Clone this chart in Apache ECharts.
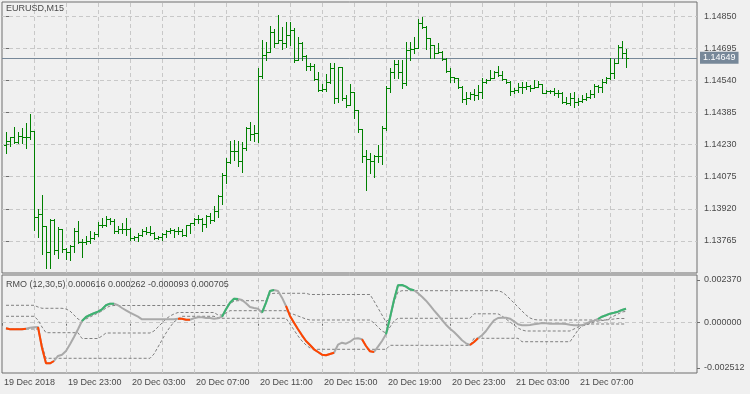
<!DOCTYPE html>
<html><head><meta charset="utf-8">
<script src="https://cdn.jsdelivr.net/npm/echarts@6/dist/echarts.min.js"></script>
<style>html,body{margin:0;padding:0;background:#F0F0F0}#c{width:750px;height:394px}</style>
</head><body><div id="c"></div>
<script>
const symbolTitle = 'EURUSD,M15';
const rmoHeader = 'RMO (12,30,5) 0.000616 0.000262 -0.000093 0.000705';
const priceTicks = [1.14850,1.14695,1.14540,1.14385,1.14230,1.14075,1.13920,1.13765];
const rmoTicks = [0.002370, 0.000000, -0.002512];
const timeTickBars = [-1,15,31,47,63,79,95,111,127,143];
const timeLabels = ['19 Dec 2018','19 Dec 23:00','20 Dec 03:00','20 Dec 07:00','20 Dec 11:00','20 Dec 15:00','20 Dec 19:00','20 Dec 23:00','21 Dec 03:00','21 Dec 07:00'];
const gridBars = [7,15,23,31,39,47,55,63,71,79,87,95,103,111,119,127,135,143,151,159,167];
const lastPrice = 1.14649;

const barOpen = [1.14228,1.14247,1.14265,1.14244,1.14271,1.14267,1.14267,1.14296,1.13882,1.13895,
 1.13837,1.13712,1.13866,1.13720,1.13823,1.13725,1.13712,1.13741,1.13813,1.13759,
 1.13759,1.13765,1.13778,1.13797,1.13842,1.13842,1.13870,1.13861,1.13813,1.13822,
 1.13822,1.13822,1.13780,1.13783,1.13794,1.13812,1.13807,1.13802,1.13778,1.13783,
 1.13799,1.13815,1.13818,1.13812,1.13812,1.13793,1.13842,1.13850,1.13870,1.13870,
 1.13847,1.13886,1.13865,1.13910,1.13982,1.14083,1.14147,1.14199,1.14199,1.14152,
 1.14212,1.14309,1.14280,1.14287,1.14561,1.14662,1.14678,1.14771,1.14721,1.14734,
 1.14718,1.14758,1.14783,1.14638,1.14718,1.14659,1.14610,1.14610,1.14545,1.14493,
 1.14497,1.14530,1.14598,1.14453,1.14603,1.14453,1.14421,1.14482,1.14397,1.14304,
 1.14175,1.14159,1.14152,1.14176,1.14176,1.14309,1.14503,1.14581,1.14619,1.14581,
 1.14525,1.14686,1.14690,1.14694,1.14815,1.14796,1.14742,1.14710,1.14670,1.14675,
 1.14641,1.14586,1.14557,1.14553,1.14506,1.14448,1.14453,1.14472,1.14469,1.14485,
 1.14533,1.14541,1.14553,1.14579,1.14566,1.14545,1.14532,1.14488,1.14493,1.14506,
 1.14509,1.14513,1.14501,1.14509,1.14522,1.14480,1.14488,1.14490,1.14477,1.14477,
 1.14437,1.14432,1.14456,1.14437,1.14440,1.14448,1.14461,1.14472,1.14513,1.14509,
 1.14533,1.14550,1.14577,1.14622,1.14699,1.14673];
const barHigh = [1.14289,1.14268,1.14315,1.14289,1.14309,1.14333,1.14376,1.14296,1.13919,1.13987,
 1.13839,1.13870,1.13871,1.13831,1.13823,1.13730,1.13746,1.13826,1.13861,1.13775,
 1.13789,1.13815,1.13807,1.13858,1.13877,1.13886,1.13877,1.13870,1.13837,1.13853,
 1.13875,1.13826,1.13789,1.13802,1.13823,1.13834,1.13837,1.13808,1.13789,1.13802,
 1.13818,1.13826,1.13821,1.13831,1.13821,1.13844,1.13853,1.13875,1.13889,1.13875,
 1.13890,1.13899,1.13934,1.13985,1.14092,1.14165,1.14249,1.14252,1.14247,1.14241,
 1.14316,1.14340,1.14324,1.14599,1.14734,1.14723,1.14802,1.14786,1.14855,1.14798,
 1.14823,1.14820,1.14791,1.14750,1.14723,1.14662,1.14625,1.14617,1.14579,1.14521,
 1.14569,1.14622,1.14625,1.14603,1.14603,1.14469,1.14522,1.14482,1.14397,1.14304,
 1.14204,1.14188,1.14180,1.14228,1.14320,1.14513,1.14598,1.14638,1.14638,1.14638,
 1.14723,1.14726,1.14747,1.14834,1.14847,1.14802,1.14742,1.14710,1.14718,1.14681,
 1.14649,1.14598,1.14557,1.14553,1.14513,1.14485,1.14485,1.14498,1.14517,1.14550,
 1.14546,1.14590,1.14585,1.14609,1.14585,1.14547,1.14537,1.14501,1.14525,1.14533,
 1.14533,1.14517,1.14541,1.14538,1.14522,1.14493,1.14493,1.14501,1.14493,1.14485,
 1.14461,1.14477,1.14485,1.14453,1.14469,1.14477,1.14493,1.14521,1.14517,1.14545,
 1.14557,1.14646,1.14641,1.14710,1.14731,1.14690];
const barLow = [1.14188,1.14225,1.14236,1.14239,1.14236,1.14215,1.14256,1.13818,1.13786,1.13702,
 1.13636,1.13636,1.13702,1.13685,1.13713,1.13678,1.13673,1.13713,1.13754,1.13689,
 1.13749,1.13754,1.13773,1.13789,1.13834,1.13839,1.13846,1.13802,1.13805,1.13802,
 1.13794,1.13770,1.13770,1.13767,1.13789,1.13799,1.13794,1.13776,1.13773,1.13770,
 1.13786,1.13805,1.13786,1.13799,1.13789,1.13789,1.13805,1.13842,1.13850,1.13815,
 1.13834,1.13850,1.13863,1.13882,1.13943,1.14046,1.14143,1.14156,1.14127,1.14099,
 1.14204,1.14252,1.14249,1.14244,1.14550,1.14638,1.14675,1.14699,1.14718,1.14690,
 1.14699,1.14710,1.14630,1.14638,1.14638,1.14590,1.14590,1.14541,1.14490,1.14490,
 1.14488,1.14528,1.14429,1.14437,1.14445,1.14413,1.14421,1.14357,1.14292,1.14147,
 1.14011,1.14092,1.14075,1.14145,1.14135,1.14300,1.14485,1.14550,1.14550,1.14504,
 1.14517,1.14638,1.14673,1.14694,1.14791,1.14690,1.14646,1.14646,1.14670,1.14638,
 1.14581,1.14533,1.14533,1.14504,1.14437,1.14426,1.14450,1.14445,1.14448,1.14453,
 1.14525,1.14541,1.14550,1.14561,1.14541,1.14528,1.14469,1.14477,1.14485,1.14477,
 1.14497,1.14490,1.14501,1.14506,1.14477,1.14477,1.14477,1.14469,1.14461,1.14432,
 1.14426,1.14421,1.14410,1.14421,1.14437,1.14445,1.14453,1.14461,1.14485,1.14485,
 1.14525,1.14545,1.14550,1.14622,1.14646,1.14606];
const barClose = [1.14247,1.14265,1.14244,1.14271,1.14267,1.14267,1.14296,1.13882,1.13895,1.13837,
 1.13712,1.13866,1.13720,1.13823,1.13725,1.13712,1.13741,1.13813,1.13759,1.13759,
 1.13765,1.13778,1.13797,1.13842,1.13842,1.13870,1.13861,1.13813,1.13822,1.13822,
 1.13822,1.13780,1.13783,1.13794,1.13812,1.13807,1.13802,1.13778,1.13783,1.13799,
 1.13815,1.13818,1.13812,1.13812,1.13793,1.13842,1.13850,1.13870,1.13870,1.13847,
 1.13886,1.13865,1.13910,1.13982,1.14083,1.14147,1.14199,1.14199,1.14152,1.14212,
 1.14309,1.14280,1.14287,1.14561,1.14662,1.14678,1.14771,1.14721,1.14734,1.14718,
 1.14758,1.14783,1.14638,1.14718,1.14659,1.14610,1.14610,1.14545,1.14493,1.14497,
 1.14530,1.14598,1.14453,1.14603,1.14453,1.14421,1.14482,1.14397,1.14304,1.14175,
 1.14159,1.14152,1.14176,1.14176,1.14309,1.14503,1.14581,1.14619,1.14581,1.14525,
 1.14686,1.14690,1.14694,1.14815,1.14796,1.14742,1.14710,1.14670,1.14675,1.14641,
 1.14586,1.14557,1.14553,1.14506,1.14448,1.14453,1.14472,1.14469,1.14485,1.14533,
 1.14541,1.14553,1.14579,1.14566,1.14545,1.14532,1.14488,1.14493,1.14506,1.14509,
 1.14513,1.14501,1.14509,1.14522,1.14480,1.14488,1.14490,1.14477,1.14477,1.14437,
 1.14432,1.14456,1.14437,1.14440,1.14448,1.14461,1.14472,1.14513,1.14509,1.14533,
 1.14550,1.14577,1.14622,1.14699,1.14673,1.14649];

const rmo = [-0.000350,-0.000413,-0.000413,-0.000413,-0.000413,-0.000375,-0.000313,-0.000288,-0.000269,-0.001563,
 -0.002538,-0.002538,-0.002394,-0.002081,-0.002000,-0.001769,-0.001350,-0.000894,-0.000413,0.000106,
 0.000356,0.000481,0.000588,0.000688,0.000838,0.001088,0.001188,0.001188,0.001088,0.000919,
 0.000775,0.000625,0.000500,0.000375,0.000213,0.000213,0.000213,0.000213,0.000213,0.000213,
 0.000213,0.000213,0.000213,0.000250,0.000250,0.000188,0.000188,0.000275,0.000338,0.000338,
 0.000294,0.000294,0.000250,0.000275,0.000375,0.000838,0.001250,0.001500,0.001481,0.001419,
 0.001213,0.000981,0.000919,0.000875,0.000625,0.001250,0.001981,0.002044,0.001981,0.001563,
 0.001044,0.000419,0.000000,-0.000413,-0.000788,-0.001144,-0.001394,-0.001663,-0.001831,-0.002000,
 -0.002038,-0.001956,-0.001875,-0.001375,-0.001250,-0.001313,-0.001188,-0.001000,-0.000975,-0.001038,
 -0.001456,-0.001788,-0.001831,-0.001500,-0.001144,-0.000725,0.000313,0.001419,0.002338,0.002356,
 0.002250,0.002088,0.002025,0.001838,0.001625,0.001375,0.001088,0.000775,0.000481,0.000169,
 -0.000125,-0.000375,-0.000581,-0.000831,-0.001100,-0.001288,-0.001394,-0.001206,-0.000975,-0.000788,
 -0.000519,-0.000163,0.000150,0.000294,0.000313,0.000313,0.000250,0.000088,-0.000100,-0.000163,
 -0.000163,-0.000144,-0.000100,-0.000063,-0.000019,-0.000038,-0.000063,-0.000063,-0.000063,-0.000063,
 -0.000081,-0.000125,-0.000163,-0.000163,-0.000163,-0.000063,0.000044,0.000125,0.000231,0.000375,
 0.000463,0.000563,0.000625,0.000688,0.000794,0.000875];
const bandUpper = [0.001088,0.001088,0.001088,0.001088,0.001088,0.001088,0.001088,0.001088,0.000981,0.000900,
 0.000900,0.000900,0.000900,0.000900,0.000900,0.000856,0.000731,0.000481,0.000231,0.000106,
 0.000231,0.000356,0.000481,0.000606,0.000731,0.000919,0.001044,0.001075,0.001075,0.001075,
 0.001075,0.001075,0.001075,0.001075,0.001075,0.001075,0.001075,0.001075,0.001075,0.001075,
 0.001075,0.001075,0.001075,0.001075,0.001075,0.001075,0.001075,0.001075,0.001075,0.001075,
 0.001075,0.001075,0.001075,0.001075,0.001075,0.001075,0.001169,0.001356,0.001375,0.001375,
 0.001375,0.001375,0.001375,0.001375,0.001375,0.001375,0.001794,0.001838,0.001838,0.001838,
 0.001838,0.001838,0.001838,0.001838,0.001838,0.001838,0.001763,0.001763,0.001763,0.001763,
 0.001763,0.001763,0.001763,0.001763,0.001763,0.001763,0.001763,0.001763,0.001763,0.001763,
 0.001763,0.001763,0.001356,0.000919,0.000481,0.000044,0.000294,0.001294,0.001919,0.002000,
 0.002000,0.002000,0.002000,0.002000,0.002000,0.002000,0.002000,0.002000,0.002000,0.002000,
 0.002000,0.002000,0.002000,0.002000,0.002000,0.002000,0.002000,0.002000,0.002000,0.002000,
 0.002000,0.002000,0.002000,0.002000,0.001919,0.001731,0.001481,0.001231,0.000981,0.000731,
 0.000481,0.000294,0.000200,0.000169,0.000169,0.000169,0.000169,0.000169,0.000169,0.000169,
 0.000169,0.000169,0.000169,0.000169,0.000169,0.000169,0.000169,0.000169,0.000169,0.000169,
 0.000169,0.000294,0.000419,0.000544,0.000669,0.000706];
const bandMiddle = [0.000400,0.000400,0.000400,0.000400,0.000400,0.000400,0.000400,0.000400,0.000169,-0.000269,
 -0.000625,-0.000625,-0.000625,-0.000625,-0.000625,-0.000625,-0.000625,-0.000625,-0.000625,-0.000988,
 -0.000988,-0.000988,-0.000988,-0.000988,-0.000831,-0.000644,-0.000644,-0.000644,-0.000644,-0.000644,
 -0.000644,-0.000644,-0.000644,-0.000644,-0.000644,-0.000644,-0.000644,-0.000519,-0.000269,-0.000019,
 0.000231,0.000419,0.000544,0.000638,0.000638,0.000638,0.000638,0.000638,0.000638,0.000638,
 0.000638,0.000638,0.000638,0.000481,0.000481,0.000606,0.000750,0.000750,0.000750,0.000750,
 0.000750,0.000750,0.000750,0.000750,0.000750,0.000750,0.000750,0.000750,0.000750,0.000750,
 0.000750,0.000606,0.000513,0.000419,0.000325,0.000231,0.000169,0.000169,0.000169,0.000169,
 0.000169,0.000169,0.000169,0.000169,0.000169,0.000169,0.000169,0.000169,0.000169,0.000169,
 0.000169,0.000169,-0.000019,-0.000269,-0.000519,-0.000644,-0.000269,0.000106,0.000275,0.000275,
 0.000275,0.000275,0.000275,0.000275,0.000275,0.000275,0.000275,0.000275,0.000275,0.000275,
 0.000275,0.000275,0.000275,0.000275,0.000275,0.000275,0.000275,0.000556,0.000556,0.000556,
 0.000556,0.000556,0.000556,0.000556,0.000419,0.000231,0.000044,-0.000144,-0.000331,-0.000456,
 -0.000519,-0.000519,-0.000519,-0.000519,-0.000519,-0.000519,-0.000519,-0.000519,-0.000519,-0.000519,
 -0.000519,-0.000519,-0.000394,-0.000269,-0.000144,-0.000081,-0.000081,-0.000081,-0.000081,-0.000081,
 -0.000081,-0.000081,-0.000081,-0.000081,-0.000081,-0.000081];
const bandLower = [-0.000394,-0.000394,-0.000394,-0.000394,-0.000394,-0.000394,-0.000394,-0.000394,-0.000394,-0.001394,
 -0.002225,-0.002225,-0.002225,-0.002225,-0.002225,-0.002225,-0.002225,-0.002225,-0.002225,-0.002225,
 -0.002225,-0.002225,-0.002225,-0.002225,-0.002225,-0.002225,-0.002225,-0.002225,-0.002225,-0.002225,
 -0.002225,-0.002225,-0.002225,-0.002225,-0.002225,-0.002225,-0.002225,-0.001956,-0.001519,-0.001081,
 -0.000644,-0.000269,0.000044,0.000231,0.000400,0.000400,0.000400,0.000400,0.000400,0.000400,
 0.000400,0.000400,0.000400,0.000294,0.000275,0.000275,0.000275,0.000275,0.000275,0.000275,
 0.000275,0.000275,0.000275,0.000275,0.000275,0.000275,0.000275,0.000275,0.000275,0.000275,
 0.000275,-0.000081,-0.000456,-0.000831,-0.001144,-0.001394,-0.001581,-0.001663,-0.001663,-0.001663,
 -0.001663,-0.001663,-0.001663,-0.001663,-0.001663,-0.001663,-0.001663,-0.001663,-0.001663,-0.001663,
 -0.001663,-0.001663,-0.001663,-0.001663,-0.001663,-0.001663,-0.001413,-0.001413,-0.001413,-0.001413,
 -0.001413,-0.001413,-0.001413,-0.001413,-0.001413,-0.001413,-0.001413,-0.001413,-0.001413,-0.001413,
 -0.001413,-0.001413,-0.001413,-0.001413,-0.001413,-0.001413,-0.001413,-0.000975,-0.000975,-0.000975,
 -0.000975,-0.000975,-0.000975,-0.000975,-0.000975,-0.000975,-0.000975,-0.000975,-0.000975,-0.001188,
 -0.001188,-0.001188,-0.001188,-0.001188,-0.001188,-0.001188,-0.001188,-0.001188,-0.001188,-0.001188,
 -0.001188,-0.001188,-0.000831,-0.000456,-0.000206,-0.000144,-0.000050,0.000044,0.000106,0.000138,
 0.000169,0.000200,0.000231,0.000263,0.000263,0.000263];
const downRanges = [[0,5],[8,12],[43,46],[70,82],[89,92],[116,118]];
const upRanges = [[19,27],[54,58],[64,67],[95,102],[148,155]];

// axis extents (layout of the two panes)
const X_MIN = -1, X_MAX = 172.75;
const P_MIN = 1.136106, P_MAX = 1.149180;
const R_MIN = -0.003144, R_MAX = 0.002981;
const RL_MIN = -0.002789, RL_MAX = 0.002647;

const FONT = 'Liberation Sans';
const TXT = '#4a4a4a';
const GRIDC = '#c8c8c8';
const FRAME = '#6e6e6e';
const BARC = '#008000';

const chart = echarts.init(document.getElementById('c'), null, {renderer: 'canvas'});
const ohlc = barClose.map((c, i) => [i, barOpen[i], barHigh[i], barLow[i], c]);

function renderBar(params, api) {
  const i = api.value(0);
  const o = api.coord([i, api.value(1)]);
  const h = api.coord([i, api.value(2)]);
  const l = api.coord([i, api.value(3)]);
  const c = api.coord([i, api.value(4)]);
  const x = Math.round(h[0]);
  const yh = Math.round(h[1]), yl = Math.round(l[1]);
  return {type: 'group', children: [
    {type: 'rect', shape: {x: x, y: yh, width: 1, height: Math.max(1, yl - yh + 1)}, style: {fill: BARC}},
    {type: 'rect', shape: {x: x - 2, y: Math.round(o[1]), width: 2, height: 1}, style: {fill: BARC}},
    {type: 'rect', shape: {x: x + 1, y: Math.round(c[1]), width: 2, height: 1}, style: {fill: BARC}}
  ]};
}
function seg(r) { const d = []; for (let i = r[0]; i <= r[1]; i++) d.push([i, rmo[i]]); return d; }
const idx = rmo.map((v, i) => i);
const lineCommon = {type: 'line', xAxisIndex: 1, yAxisIndex: 1, showSymbol: false, symbol: 'none', silent: true, animation: false, z: 10};
const txtStyle = {color: TXT, fontFamily: FONT, fontSize: 9, fontWeight: 'normal'};
const gridLineStyle = {color: GRIDC, type: [4, 3], width: 1};

const mainGridLines = gridBars.map(b => [{coord: [b + 0.125, P_MIN]}, {coord: [b + 0.125, P_MAX]}])
  .concat(priceTicks.map(p => [{coord: [X_MIN, p]}, {coord: [X_MAX, p]}]));
const lowGridLines = gridBars.map(b => [{coord: [b + 0.125, R_MIN]}, {coord: [b + 0.125, R_MAX]}])
  .concat([[{coord: [X_MIN, 0]}, {coord: [X_MAX, 0]}]]);

const series = [
  {type: 'line', xAxisIndex: 0, yAxisIndex: 0, data: [], silent: true, animation: false,
   markLine: {silent: true, animation: false, symbol: ['none', 'none'], precision: 8, label: {show: false},
     lineStyle: gridLineStyle, data: mainGridLines}},
  {type: 'line', xAxisIndex: 0, yAxisIndex: 0, data: [], silent: true, animation: false,
   markLine: {silent: true, animation: false, symbol: ['none', 'none'], precision: 5,
     lineStyle: {color: '#778899', type: 'solid', width: 1},
     label: {show: true, position: 'end', distance: 3, formatter: () => lastPrice.toFixed(5),
       color: '#ffffff', backgroundColor: '#778899', fontFamily: FONT, fontSize: 9, padding: [1, 3, 1, 3], lineHeight: 10},
     data: [[{coord: [X_MIN, lastPrice]}, {coord: [X_MAX, lastPrice]}]]}},
  {type: 'custom', xAxisIndex: 0, yAxisIndex: 0, data: ohlc, renderItem: renderBar, z: 10, animation: false, silent: true},
  {type: 'line', xAxisIndex: 1, yAxisIndex: 1, data: [], silent: true, animation: false,
   markLine: {silent: true, animation: false, symbol: ['none', 'none'], precision: 8, label: {show: false},
     lineStyle: gridLineStyle, data: lowGridLines}},
  Object.assign({}, lineCommon, {data: idx.map(i => [i, bandUpper[i]]), lineStyle: {color: '#808080', width: 1, type: [3, 2]}}),
  Object.assign({}, lineCommon, {data: idx.map(i => [i, bandMiddle[i]]), lineStyle: {color: '#808080', width: 1, type: [3, 2]}}),
  Object.assign({}, lineCommon, {data: idx.map(i => [i, bandLower[i]]), lineStyle: {color: '#808080', width: 1, type: [3, 2]}}),
  Object.assign({}, lineCommon, {data: idx.map(i => [i, rmo[i]]), lineStyle: {color: '#A9A9A9', width: 2}, z: 11})
];
downRanges.forEach(r => series.push(Object.assign({}, lineCommon, {data: seg(r), lineStyle: {color: '#FF4500', width: 2}, z: 12})));
upRanges.forEach(r => series.push(Object.assign({}, lineCommon, {data: seg(r), lineStyle: {color: '#3CB371', width: 2}, z: 12})));

chart.setOption({
  backgroundColor: '#F0F0F0',
  animation: false,
  title: [
    {text: symbolTitle, left: 6, top: 4, padding: 0, textStyle: txtStyle},
    {text: rmoHeader, left: 6, top: 280, padding: 0, textStyle: txtStyle}
  ],
  grid: [
    {left: 2, right: 53, top: 2, height: 271, show: true, borderColor: FRAME, borderWidth: 1, backgroundColor: '#F0F0F0', outerBoundsMode: 'none', containLabel: false},
    {left: 2, right: 53, top: 275, height: 98, show: true, borderColor: FRAME, borderWidth: 1, backgroundColor: '#F0F0F0', outerBoundsMode: 'none', containLabel: false}
  ],
  xAxis: [
    {gridIndex: 0, type: 'value', min: X_MIN, max: X_MAX, show: false},
    {gridIndex: 1, type: 'value', min: X_MIN, max: X_MAX, position: 'bottom',
     axisLine: {show: false}, splitLine: {show: false},
     axisTick: {show: true, length: 3, lineStyle: {color: FRAME}, customValues: timeTickBars},
     axisLabel: {customValues: timeTickBars, formatter: v => { const k = timeTickBars.indexOf(v); return k >= 0 ? timeLabels[k] : ''; },
       align: 'left', margin: 5, padding: [0, 0, 0, 2], color: TXT, fontFamily: FONT, fontSize: 9}}
  ],
  yAxis: [
    {gridIndex: 0, type: 'value', position: 'right', min: P_MIN, max: P_MAX,
     axisLine: {show: false}, splitLine: {show: false},
     axisTick: {show: true, length: 3, lineStyle: {color: FRAME}, customValues: priceTicks},
     axisLabel: {customValues: priceTicks, formatter: v => v.toFixed(5), margin: 7, color: TXT, fontFamily: FONT, fontSize: 9}},
    {gridIndex: 1, type: 'value', position: 'left', min: R_MIN, max: R_MAX, show: false},
    {gridIndex: 1, type: 'value', position: 'right', min: RL_MIN, max: RL_MAX,
     axisLine: {show: false}, splitLine: {show: false},
     axisTick: {show: true, length: 3, lineStyle: {color: FRAME}, customValues: rmoTicks},
     axisLabel: {customValues: rmoTicks, formatter: v => v.toFixed(6), margin: 7, color: TXT, fontFamily: FONT, fontSize: 9}}
  ],
  series: series
});
</script></body></html>
